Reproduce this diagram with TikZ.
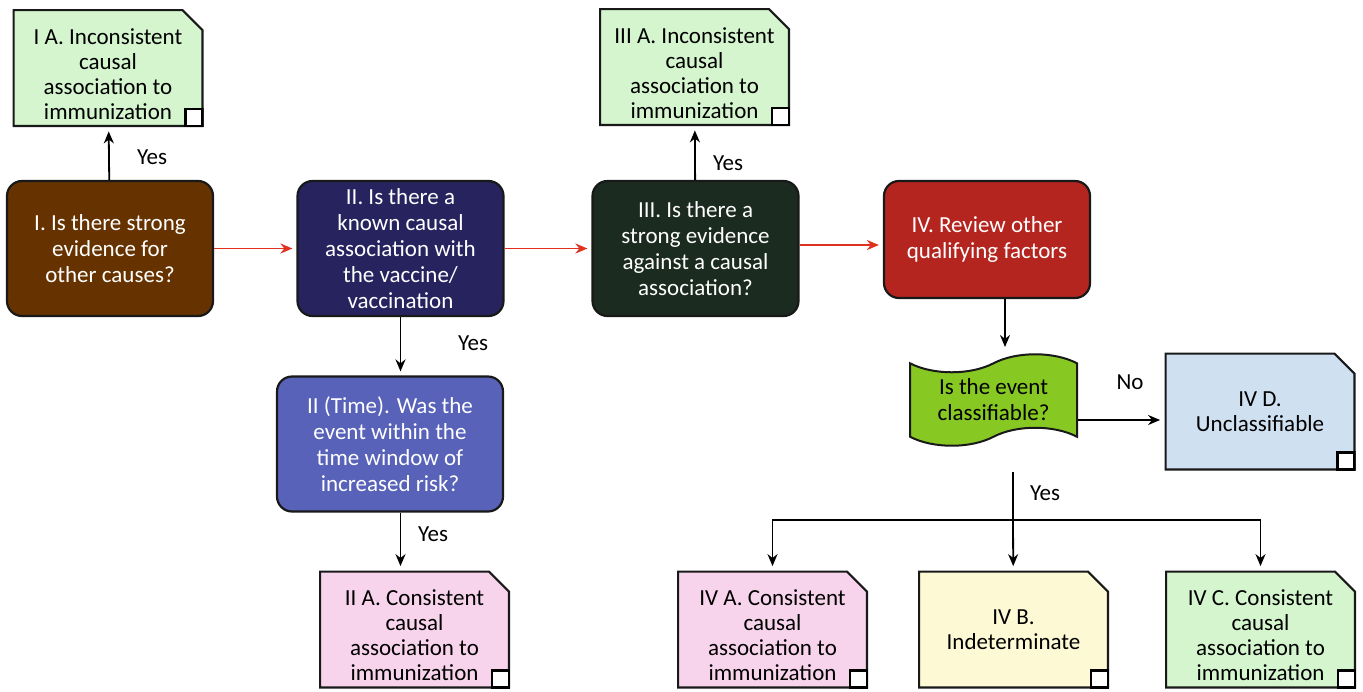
\documentclass[tikz,border=0pt]{standalone}
\usepackage{fontspec}
\setmainfont{Carlito}
\usetikzlibrary{shapes.symbols,arrows.meta}

\definecolor{causebrown}{HTML}{663300}
\definecolor{knownnavy}{HTML}{27235F}
\definecolor{againstgreen}{HTML}{1C2B1F}
\definecolor{reviewred}{HTML}{B5251F}
\definecolor{timeblue}{HTML}{5762B8}
\definecolor{notegreen}{HTML}{D4F5CE}
\definecolor{notepink}{HTML}{F8D4EC}
\definecolor{noteyellow}{HTML}{FDF9D4}
\definecolor{noteblue}{HTML}{CFE0F1}
\definecolor{tapegreen}{HTML}{87C823}
\definecolor{flowred}{HTML}{E0301E}

\begin{document}
\begin{tikzpicture}[x=0.5pt,y=-0.5pt,
    font=\fontsize{11.5}{13}\selectfont,
    qbox/.style={rectangle, rounded corners=7.5pt, draw=black!90, line width=1.1pt,
        text=white, align=center, minimum width=103pt, minimum height=67.5pt, inner sep=1pt},
    notebox/.style={rectangle, align=center, inner sep=1pt,
        font=\fontsize{11.5}{12.5}\selectfont,
        minimum width=95.5pt, minimum height=59pt,
        path picture={
            \draw[fill=#1, draw=black!90, line width=1.1pt]
                ([xshift=0.55pt,yshift=-0.55pt]path picture bounding box.north west)
                -- ([xshift=-10.5pt,yshift=-0.55pt]path picture bounding box.north east)
                -- ([xshift=-0.55pt,yshift=-10.5pt]path picture bounding box.north east)
                -- ([xshift=-0.55pt,yshift=0.55pt]path picture bounding box.south east)
                -- ([xshift=0.55pt,yshift=0.55pt]path picture bounding box.south west) -- cycle;
            \draw[fill=white, line width=1.1pt]
                ([xshift=-9pt,yshift=9pt]path picture bounding box.south east)
                rectangle ([xshift=-0.55pt,yshift=0.55pt]path picture bounding box.south east);}},
    longnote/.style={text height=51.5pt},
    yesno/.style={text=black},
    flow/.style={-{Stealth[length=6pt,width=5pt]}, draw=flowred, line width=0.9pt, shorten >=2pt},
    link/.style={-{Stealth[length=6pt,width=5pt]}, line width=0.9pt, shorten >=2pt}
]
\useasboundingbox (0,0) rectangle (1363,691);

% questions
\node[qbox, fill=causebrown] (q1) at (110,248.5) {I. Is there strong\\evidence for\\other causes?};
\node[qbox, fill=knownnavy] (q2) at (400.5,248.5) {II. Is there a\\known causal\\association with\\the vaccine/\\vaccination};
\node[qbox, fill=againstgreen] (q3) at (695.5,248.5) {III. Is there a\\strong evidence\\against a causal\\association?};
\node[qbox, fill=reviewred, minimum height=58.5pt] (q4) at (987,239.5) {IV. Review other\\qualifying factors};
\node[qbox, fill=timeblue, minimum width=113pt] (qt) at (390,444) {II (Time). Was the\\event within the\\time window of\\increased risk?};
\node[tape, tape bend top=in and out, tape bend bottom=in and out, tape bend height=9pt,
    draw=black!90, line width=1pt, fill=tapegreen, minimum width=83.5pt, minimum height=43.5pt,
    align=center] (cls) at (993.5,400) {Is the event\\classifiable?};

% outcomes
\node[notebox=notegreen, longnote] (n1a) at (108,68) {I A. Inconsistent\\causal\\association to\\immunization};
\node[notebox=notegreen, longnote] (n3a) at (694.5,67) {III A. Inconsistent\\causal\\association to\\immunization};
\node[notebox=notepink, longnote] (n2a) at (414.5,629.5) {II A. Consistent\\causal\\association to\\immunization};
\node[notebox=notepink, longnote] (n4a) at (772.5,629.5) {IV A. Consistent\\causal\\association to\\immunization};
\node[notebox=noteyellow] (n4b) at (1013.5,629.5) {IV B.\\Indeterminate};
\node[notebox=notegreen, longnote] (n4c) at (1260.5,629.5) {IV C. Consistent\\causal\\association to\\immunization};
\node[notebox=noteblue] (n4d) at (1260,411.5) {IV D.\\Unclassifiable};

\coordinate (clsin) at (1005,351);
\coordinate (forktop) at (1013,472);
\coordinate (fork) at (1013,520);

% main line
\draw[flow] (q1) -- (q2);
\draw[flow] (q2) -- (q3);
\draw[flow] (q3.east |- 0,245) -- (q4.west |- 0,245);

% branches
\draw[link] (q1) -- (n1a);
\draw[link] (q3) -- (n3a);
\draw[link] (q2) -- (q2 |- qt.north);
\draw[link] (qt.south -| q2.south) -- (n2a.north -| q2.south);
\draw[link] (q4.south -| clsin) -- (clsin);
\draw[link] (cls.east |- 0,420) -- (n4d.west |- 0,420);
\draw[line width=0.9pt] (forktop) -- (fork);
\draw[link] (fork) -| (n4a);
\draw[link] (fork) -- (n4b);
\draw[link] (fork) -| (n4c);

\node[yesno] (y1) at (152,157) {Yes};
\node[yesno] (y3) at (728,163) {Yes};
\node[yesno] (y2) at (473,343) {Yes};
\node[yesno] (yt) at (433,534) {Yes};
\node[yesno] (no) at (1130,382) {No};
\node[yesno] (y4) at (1045,493) {Yes};
\end{tikzpicture}
\end{document}
